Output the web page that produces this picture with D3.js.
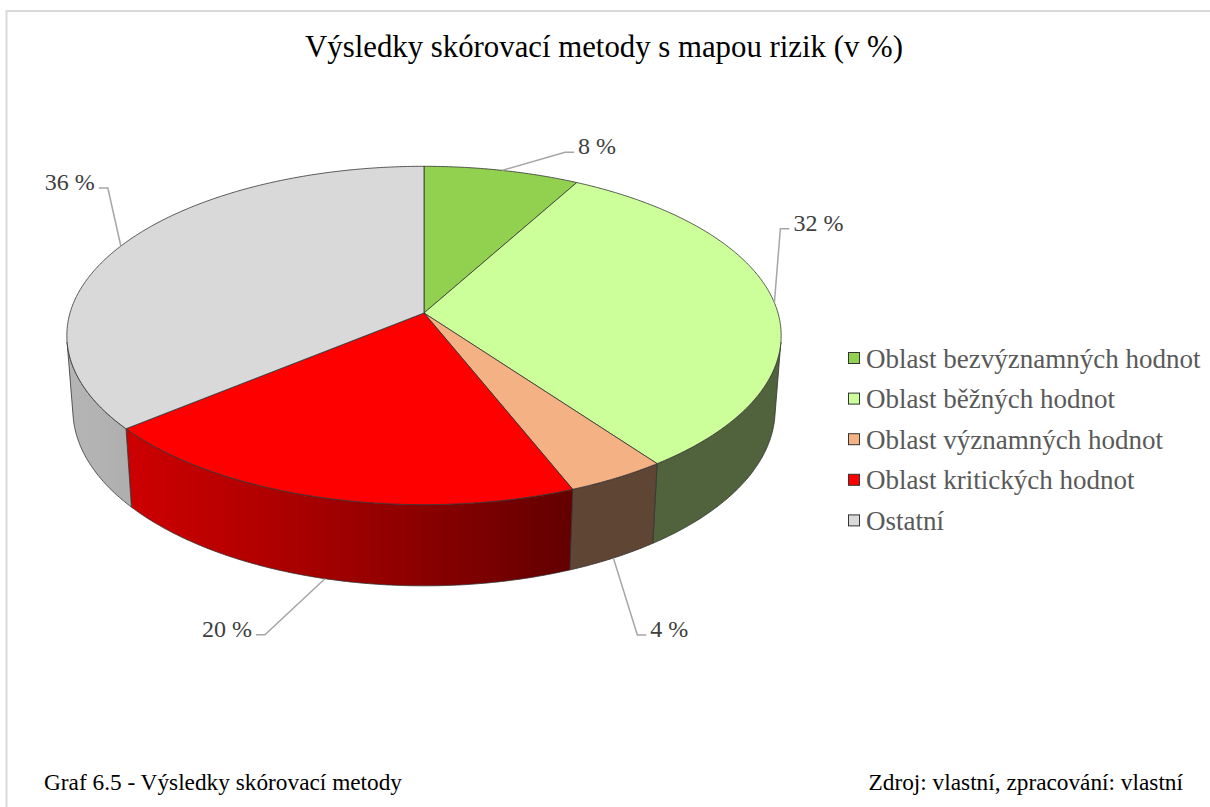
<!DOCTYPE html>
<html>
<head>
<meta charset="utf-8">
<script src="https://cdn.jsdelivr.net/npm/d3@7"></script>
<style>
  body { margin: 0; background: #fff; }
  svg { display: block; }
</style>
</head>
<body>
<div id="chart"></div>
<script>
const categories = [
  'Oblast bezvýznamných hodnot',
  'Oblast běžných hodnot',
  'Oblast významných hodnot',
  'Oblast kritických hodnot',
  'Ostatní',
]
const values = [8, 32, 4, 20, 36]
const colors = ['#92D050', '#CCFF99', '#F4B183', '#FF0000', '#D9D9D9']
const titleText = 'Výsledky skórovací metody s mapou rizik (v %)'
const captionText = 'Graf 6.5 - Výsledky skórovací metody'
const sourceText = 'Zdroj: vlastní, zpracování: vlastní'

// where the label leader bends, relative to its anchor on the rim (layout only)
const labelOffsets = [[63, -18], [6, -74], [24, 77], [-60, 56], [-13, -58]]

const width = 1210
const height = 807
const serif = "'Liberation Serif', 'Times New Roman', serif"

// 3d pie geometry
const R = 354
const depth = 85
const tilt = 28 * Math.PI / 180
const dist = 2354
const cx = 424
const cy = 313

const proj = (phi, y) => {
  const X = R * Math.sin(phi)
  const Z = -R * Math.cos(phi)
  const d = y * Math.sin(tilt) + Z * Math.cos(tilt)
  const u = y * Math.cos(tilt) - Z * Math.sin(tilt)
  const s = dist / (dist - d)
  return [cx + X * s, cy - u * s]
}

const step = Math.PI / 360
const arcPts = (a0, a1, y) => {
  const n = Math.max(2, Math.ceil(Math.abs(a1 - a0) / step))
  return d3.range(n + 1).map(i => proj(a0 + (a1 - a0) * i / n, y))
}

// front wall is visible where the outward normal faces the camera
const visK = Math.acos(-R / (dist * Math.cos(tilt)))
const vis0 = visK
const vis1 = 2 * Math.PI - visK

// light from the left
const LA = 0.94, LB = 0.342, amb = 0.39, dif = 0.44
const shade = (base, phi) => {
  const t = Math.max(0, -LA * Math.sin(phi) - LB * Math.cos(phi))
  const k = amb + dif * t
  const c = d3.rgb(base)
  return d3.rgb(c.r * k, c.g * k, c.b * k).formatHex()
}

const svg = d3.select('#chart')
  .append('svg')
  .attr('width', width)
  .attr('height', height)

// chart frame
svg.append('path')
  .attr('d', `M6.5,${height} V11 H${width}`)
  .attr('fill', 'none')
  .attr('stroke', '#D9D9D9')
  .attr('stroke-width', 2)

svg.append('text')
  .attr('x', 604)
  .attr('y', 57)
  .attr('text-anchor', 'middle')
  .attr('font-family', serif)
  .attr('font-size', 30.8)
  .attr('fill', '#000')
  .text(titleText)

const pie = d3.pie().sort(null).value(d => d)
const arcs = pie(values)

const defs = svg.append('defs')
const line = d3.line()

// side walls
const sides = svg.append('g')
arcs.forEach((a, i) => {
  const b0 = Math.max(a.startAngle, vis0)
  const b1 = Math.min(a.endAngle, vis1)
  if (b1 <= b0) return
  const x0 = proj(b0, 0)[0]
  const x1 = proj(b1, 0)[0]
  const grad = defs.append('linearGradient')
    .attr('id', `side${i}`)
    .attr('gradientUnits', 'userSpaceOnUse')
    .attr('x1', x0).attr('y1', 0)
    .attr('x2', x1).attr('y2', 0)
  d3.range(13).forEach(j => {
    const phi = b0 + (b1 - b0) * j / 12
    const off = x1 === x0 ? 0 : (proj(phi, 0)[0] - x0) / (x1 - x0)
    grad.append('stop')
      .attr('offset', Math.max(0, Math.min(1, off)))
      .attr('stop-color', shade(colors[i], phi))
  })
  const pts = arcPts(b0, b1, 0).concat(arcPts(b1, b0, -depth))
  sides.append('path')
    .attr('d', line(pts) + 'Z')
    .attr('fill', `url(#side${i})`)
    .attr('stroke', '#333')
    .attr('stroke-width', 0.8)
    .attr('stroke-linejoin', 'round')
})

// top faces
svg.append('g')
  .selectAll('path')
  .data(arcs)
  .join('path')
  .attr('d', d => line([[cx, cy]].concat(arcPts(d.startAngle, d.endAngle, 0))) + 'Z')
  .attr('fill', (d, i) => colors[i])
  .attr('stroke', '#333')
  .attr('stroke-width', 0.8)
  .attr('stroke-linejoin', 'round')

// data labels with leader lines
const labels = svg.append('g')
arcs.forEach((a, i) => {
  const mid = (a.startAngle + a.endAngle) / 2
  const front = mid > vis0 && mid < vis1
  const anchor = proj(mid, front ? -depth : 0)
  const elbow = [anchor[0] + labelOffsets[i][0], anchor[1] + labelOffsets[i][1]]
  const right = elbow[0] >= anchor[0] - 20 && (elbow[0] > cx || labelOffsets[i][0] > 0)
  const dir = right ? 1 : -1
  const end = [elbow[0] + dir * 9, elbow[1]]
  labels.append('path')
    .attr('d', line([anchor, elbow, end]))
    .attr('fill', 'none')
    .attr('stroke', '#A6A6A6')
    .attr('stroke-width', 1.5)
  labels.append('text')
    .attr('x', end[0] + dir * 4)
    .attr('y', end[1] + 2)
    .attr('text-anchor', right ? 'start' : 'end')
    .attr('font-family', serif)
    .attr('font-size', 24)
    .attr('fill', '#404040')
    .text(`${values[i]} %`)
})

// legend
const legend = svg.append('g').attr('transform', 'translate(848,358)')
const rows = legend.selectAll('g')
  .data(categories)
  .join('g')
  .attr('transform', (d, i) => `translate(0,${i * 40.6})`)
rows.append('rect')
  .attr('x', 0.5)
  .attr('y', -5.5)
  .attr('width', 11)
  .attr('height', 11)
  .attr('fill', (d, i) => colors[i])
  .attr('stroke', '#333')
  .attr('stroke-width', 1)
rows.append('text')
  .attr('x', 18)
  .attr('y', 9.5)
  .attr('font-family', serif)
  .attr('font-size', 27)
  .attr('fill', '#595959')
  .text(d => d)

// caption and source
svg.append('text')
  .attr('x', 44)
  .attr('y', 790)
  .attr('font-family', serif)
  .attr('font-size', 23.3)
  .attr('fill', '#000')
  .text(captionText)

svg.append('text')
  .attr('x', 1183)
  .attr('y', 790)
  .attr('text-anchor', 'end')
  .attr('font-family', serif)
  .attr('font-size', 23.3)
  .attr('fill', '#000')
  .text(sourceText)
</script>
</body>
</html>
